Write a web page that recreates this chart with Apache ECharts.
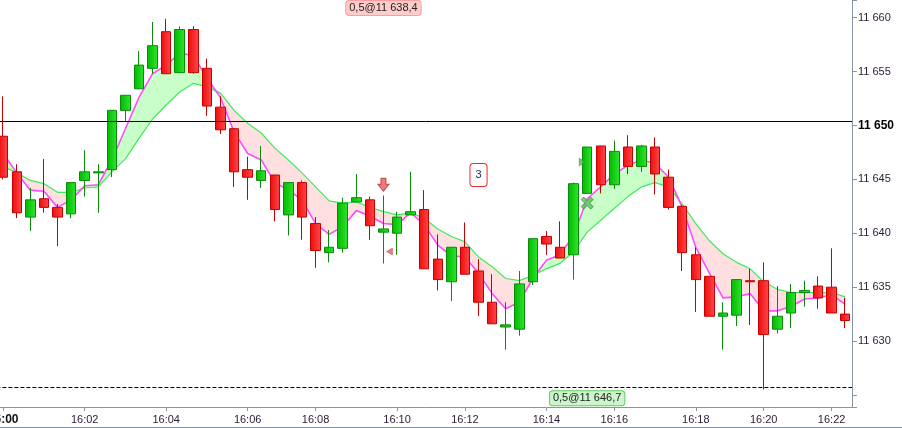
<!DOCTYPE html>
<html>
<head>
<meta charset="utf-8">
<script src="https://cdn.jsdelivr.net/npm/echarts@6/dist/echarts.min.js"></script>
<style>
  html, body { margin: 0; padding: 0; background: #fff; }
  #chart { width: 902px; height: 428px; }
</style>
</head>
<body>
<div id="chart"></div>
<script>
// candles: open, close, low, high
var candles = [
  [11649.0, 11645.2, 11645.0, 11652.7],
  [11645.7, 11641.9, 11641.4, 11646.4],
  [11641.5, 11643.1, 11640.2, 11644.2],
  [11643.2, 11642.4, 11641.9, 11646.9],
  [11642.4, 11641.5, 11638.8, 11642.7],
  [11641.8, 11644.7, 11641.4, 11644.7],
  [11644.9, 11645.7, 11643.4, 11647.7],
  [11645.6, 11645.7, 11641.9, 11646.4],
  [11645.9, 11651.4, 11645.2, 11651.4],
  [11651.4, 11652.8, 11650.4, 11652.8],
  [11653.4, 11655.6, 11653.4, 11656.9],
  [11655.3, 11657.4, 11654.8, 11659.6],
  [11658.7, 11654.8, 11654.8, 11659.9],
  [11654.9, 11658.9, 11654.9, 11659.2],
  [11658.9, 11654.9, 11654.8, 11659.2],
  [11655.3, 11651.8, 11650.9, 11656.2],
  [11651.7, 11649.6, 11649.2, 11652.7],
  [11649.7, 11645.7, 11644.3, 11649.7],
  [11645.9, 11645.2, 11643.1, 11647.1],
  [11644.9, 11645.8, 11644.2, 11648.1],
  [11645.4, 11642.2, 11641.1, 11645.4],
  [11641.7, 11644.7, 11639.8, 11644.7],
  [11644.7, 11641.5, 11639.4, 11644.9],
  [11640.9, 11638.4, 11636.8, 11641.5],
  [11638.2, 11638.7, 11637.3, 11640.3],
  [11638.6, 11642.8, 11638.2, 11643.3],
  [11642.9, 11643.3, 11642.9, 11645.5],
  [11643.1, 11640.7, 11639.4, 11643.4],
  [11640.1, 11640.4, 11637.2, 11643.5],
  [11640.0, 11641.5, 11638.0, 11642.0],
  [11641.7, 11642.0, 11641.7, 11645.7],
  [11642.2, 11636.7, 11636.7, 11644.0],
  [11637.6, 11635.7, 11634.7, 11639.9],
  [11635.5, 11638.7, 11633.7, 11638.7],
  [11638.7, 11636.2, 11636.2, 11641.0],
  [11636.5, 11633.6, 11632.3, 11637.6],
  [11633.6, 11631.6, 11631.6, 11636.2],
  [11631.3, 11631.5, 11629.2, 11633.6],
  [11631.1, 11635.3, 11630.5, 11636.5],
  [11635.5, 11639.5, 11635.2, 11639.5],
  [11639.7, 11639.0, 11638.0, 11640.2],
  [11638.7, 11637.7, 11637.7, 11641.1],
  [11638.0, 11644.6, 11635.7, 11644.7],
  [11643.7, 11648.0, 11643.7, 11648.0],
  [11648.1, 11644.5, 11643.7, 11648.1],
  [11644.5, 11647.6, 11644.1, 11648.6],
  [11648.0, 11646.2, 11645.5, 11649.1],
  [11646.2, 11648.1, 11645.7, 11648.2],
  [11648.0, 11645.5, 11643.6, 11648.9],
  [11645.2, 11642.4, 11642.2, 11645.9],
  [11642.5, 11638.2, 11636.5, 11642.6],
  [11638.0, 11635.7, 11632.7, 11638.7],
  [11636.0, 11632.3, 11632.3, 11636.0],
  [11632.3, 11632.6, 11629.2, 11633.6],
  [11632.4, 11635.7, 11631.4, 11635.7],
  [11635.6, 11635.5, 11631.5, 11636.7],
  [11635.6, 11630.6, 11625.5, 11637.3],
  [11631.1, 11632.3, 11630.7, 11635.1],
  [11632.6, 11634.5, 11631.2, 11635.3],
  [11634.5, 11634.7, 11633.2, 11635.6],
  [11635.1, 11634.0, 11633.0, 11636.0],
  [11635.0, 11632.6, 11632.6, 11638.6],
  [11632.5, 11631.9, 11631.2, 11634.0]
];

// fast average (magenta) and slow average (green)
var fastMa = [
  11647.4, 11645.6, 11644.0, 11643.9, 11642.4, 11643.1, 11644.4, 11644.5, 11646.8, 11649.7,
  11652.6, 11654.8, 11655.6, 11656.7, 11656.5, 11654.4, 11652.6, 11649.4, 11647.4, 11646.8,
  11644.7, 11644.0, 11643.1, 11640.9, 11639.9, 11640.6, 11642.1, 11641.6, 11640.9, 11640.8,
  11641.9, 11640.8, 11638.9, 11637.9, 11637.8, 11636.3, 11634.4, 11633.0, 11633.6, 11635.8,
  11637.5, 11638.0, 11639.8, 11643.2, 11644.3, 11645.5, 11646.3, 11646.8, 11646.5, 11645.2,
  11642.4, 11638.7, 11636.3, 11634.0, 11634.1, 11634.4, 11632.8, 11632.8, 11633.2, 11633.9,
  11634.0, 11634.3, 11633.4
];
var slowMa = [
  11646.2, 11645.6, 11644.9, 11644.6, 11643.8, 11643.8, 11644.2, 11644.3, 11645.7, 11646.9,
  11648.8, 11650.6, 11651.9, 11653.1, 11653.9, 11653.6, 11653.0, 11651.4, 11650.2, 11649.3,
  11647.9, 11646.8, 11645.6, 11644.3, 11643.0, 11642.8, 11642.9, 11642.4, 11642.0, 11641.7,
  11641.9, 11641.4, 11640.4, 11639.7, 11639.2, 11637.8, 11636.9, 11635.8, 11635.6, 11636.1,
  11636.7, 11637.2, 11638.3, 11640.1, 11641.2, 11642.3, 11643.4, 11644.3, 11644.7, 11644.3,
  11642.7, 11640.9, 11639.3, 11638.1, 11637.3, 11636.7, 11635.5, 11634.8, 11634.5, 11634.5,
  11634.5, 11634.5, 11634.1
];

var tickIndex = [0, 6, 12, 18, 23, 29, 34, 40, 45, 51, 56, 61];
var tickLabels = ['16:00', '16:02', '16:04', '16:06', '16:08', '16:10', '16:12', '16:14', '16:16', '16:18', '16:20', '16:22'];

var lastPrice = 11650.4;
var stopLevel = 11625.7;

// order signals: [candle index, price]
var sellArrow = [28, 11644.5];
var sellFill = [28, 11638.3];
var buyEntry = [43, 11646.6];
var buyFill = [43, 11642.8];

// order tags: [candle index, price, text]
var sellTag = [28, 11660.9, '0,5@11 638,4'];
var buyTag = [43, 11624.7, '0,5@11 646,7'];
var countTag = [35, 11645.4, '3'];

var yMin = 11623.88;
var yMax = 11661.64;

var chart = echarts.init(document.getElementById('chart'));
var font = 'Liberation Sans, Arial, sans-serif';
var axisGrey = '#8796a4';

var categories = candles.map(function (c, i) { return String(i); });

// band between the two averages, split where they cross
var band = [];
for (var i = 0; i < fastMa.length - 1; i++) {
  band.push([i, fastMa[i], slowMa[i], fastMa[i + 1], slowMa[i + 1]]);
}

function poly(points, color) {
  return {
    type: 'polygon',
    shape: { points: points },
    style: { fill: color, stroke: color, lineWidth: 0.5 }
  };
}

function renderBand(params, api) {
  var i = api.value(0);
  var f0 = api.value(1), s0 = api.value(2), f1 = api.value(3), s1 = api.value(4);
  var m0 = api.coord([i, f0]), g0 = api.coord([i, s0]);
  var m1 = api.coord([i + 1, f1]), g1 = api.coord([i + 1, s1]);
  var d0 = f0 - s0, d1 = f1 - s1;
  var up = '#c8ffc8', down = '#ffdfdf';
  var kids = [];
  if (d0 * d1 >= 0) {
    kids.push(poly([m0, m1, g1, g0], d0 + d1 >= 0 ? up : down));
  } else {
    var t = d0 / (d0 - d1);
    var x = [m0[0] + (m1[0] - m0[0]) * t, m0[1] + (m1[1] - m0[1]) * t];
    kids.push(poly([m0, x, g0], d0 > 0 ? up : down));
    kids.push(poly([x, m1, g1], d1 > 0 ? up : down));
  }
  return { type: 'group', children: kids };
}

function tagPoint(tag, bg, border, color, pad) {
  return {
    coord: [tag[0], tag[1]],
    symbol: 'rect',
    symbolSize: 1,
    itemStyle: { color: 'transparent' },
    label: {
      show: true,
      position: 'inside',
      formatter: tag[2],
      fontFamily: font,
      fontSize: 11,
      color: color,
      backgroundColor: bg,
      borderColor: border,
      borderWidth: 1,
      borderRadius: 3,
      padding: pad
    }
  };
}

var upFill = new echarts.graphic.LinearGradient(0, 0, 1, 0, [
  { offset: 0, color: '#00b800' },
  { offset: 1, color: '#2fe62f' }
]);
var downFill = new echarts.graphic.LinearGradient(0, 0, 1, 0, [
  { offset: 0, color: '#ee0a0a' },
  { offset: 1, color: '#ff4a4a' }
]);

var arrowPath = 'path://M3,0 L8,0 L8,6 L11,6 L5.5,13 L0,6 L3,6 Z';
var crossPath = 'path://M0,2.5 L2.5,0 L6,3.5 L9.5,0 L12,2.5 L8.5,6 L12,9.5 L9.5,12 L6,8.5 L2.5,12 L0,9.5 L3.5,6 Z';

var option = {
  animation: false,
  backgroundColor: '#fff',
  grid: {
    left: -3.6,
    right: 50,
    top: 0,
    bottom: 21,
    containLabel: false,
    outerBoundsMode: 'none'
  },
  xAxis: {
    type: 'category',
    data: categories,
    boundaryGap: true,
    axisLine: { show: true, onZero: false, lineStyle: { color: axisGrey, width: 1 } },
    axisTick: {
      show: true,
      alignWithLabel: true,
      length: 4,
      lineStyle: { color: axisGrey },
      interval: function (index) { return tickIndex.indexOf(index) >= 0; }
    },
    axisLabel: {
      interval: function (index) { return tickIndex.indexOf(index) >= 0; },
      formatter: function (v, index) {
        var k = tickIndex.indexOf(index);
        if (k < 0) return '';
        return k === 0 ? '{b|' + tickLabels[k] + '}' : tickLabels[k];
      },
      margin: 7,
      color: '#2a1a33',
      fontFamily: font,
      fontSize: 11,
      rich: { b: { fontWeight: 'bold', fontSize: 12, color: '#111', fontFamily: font } }
    },
    splitLine: { show: false }
  },
  yAxis: {
    type: 'value',
    position: 'right',
    min: yMin,
    max: yMax,
    splitNumber: 7,
    scale: true,
    axisLine: { show: true, lineStyle: { color: axisGrey, width: 1 } },
    axisTick: { show: true, length: 5, lineStyle: { color: axisGrey } },
    splitLine: { show: false },
    axisLabel: {
      margin: 6,
      color: '#2a1a33',
      fontFamily: font,
      fontSize: 11,
      formatter: function (v) {
        if (Math.abs(v - Math.round(v)) > 1e-6 || Math.round(v) % 5 !== 0 || v < 11630) return '';
        var s = String(Math.round(v)).replace(/\B(?=(\d{3})+(?!\d))/g, ' ');
        return Math.round(v) === 11650 ? '{b|' + s + '}' : s;
      },
      rich: { b: { fontWeight: 'bold', fontSize: 12, color: '#000', fontFamily: font } }
    }
  },
  series: [
    {
      name: 'band',
      type: 'custom',
      renderItem: renderBand,
      data: band,
      encode: { x: 0, y: [1, 2, 3, 4] },
      silent: true,
      z: 1
    },
    {
      name: 'slow',
      type: 'line',
      data: slowMa,
      symbol: 'none',
      lineStyle: { color: '#3ced5a', width: 1.2 },
      silent: true,
      z: 2
    },
    {
      name: 'fast',
      type: 'line',
      data: fastMa,
      symbol: 'none',
      lineStyle: { color: '#ff4cff', width: 1.6 },
      silent: true,
      z: 3
    },
    {
      name: 'price',
      type: 'candlestick',
      data: candles,
      barWidth: 10,
      z: 4,
      itemStyle: {
        color: upFill,
        color0: downFill,
        borderColor: '#0a8a0a',
        borderColor0: '#c40000',
        borderWidth: 1
      },
      markLine: {
        silent: true,
        symbol: ['none', 'none'],
        label: { show: false },
        data: [
          { yAxis: lastPrice, lineStyle: { color: '#000', width: 1, type: 'solid' } },
          { yAxis: stopLevel, lineStyle: { color: '#000', width: 1, type: [4, 2] } }
        ]
      },
      markPoint: {
        silent: true,
        data: [
          tagPoint(sellTag, '#ffcccc', '#ff9c9c', '#222', [2, 3, 1, 3]),
          tagPoint(buyTag, '#ccf5cc', '#5fcc5f', '#222', [2, 3, 1, 3]),
          tagPoint(countTag, '#fff', '#ee2a2a', '#1a2a5a', [6, 5, 5, 5])
        ]
      }
    },
    {
      name: 'signals',
      type: 'scatter',
      z: 5,
      silent: true,
      data: [
        {
          value: sellArrow,
          symbol: arrowPath,
          symbolSize: [11, 13],
          itemStyle: { color: '#ee5a5a', borderColor: '#b82020', borderWidth: 1 }
        },
        {
          value: sellFill,
          symbol: 'triangle',
          symbolRotate: 90,
          symbolSize: [7, 6],
          symbolOffset: [6, 0],
          itemStyle: { color: '#ee5a5a', borderColor: '#c03030', borderWidth: 0.5 }
        },
        {
          value: buyEntry,
          symbol: 'triangle',
          symbolRotate: -90,
          symbolSize: [8, 6],
          symbolOffset: [-5, 0],
          itemStyle: { color: '#4cb84c', borderColor: '#2a882a', borderWidth: 0.5 }
        },
        {
          value: buyFill,
          symbol: crossPath,
          symbolSize: [12, 12],
          itemStyle: { color: '#5cc05c', borderColor: '#2f8f2f', borderWidth: 1 }
        }
      ]
    }
  ],
  graphic: [
    {
      // frame line along the bottom of the window
      type: 'line',
      silent: true,
      shape: { x1: 0, y1: 427.5, x2: 902, y2: 427.5 },
      style: { stroke: axisGrey, lineWidth: 1 }
    }
  ]
};

chart.setOption(option);
</script>
</body>
</html>
